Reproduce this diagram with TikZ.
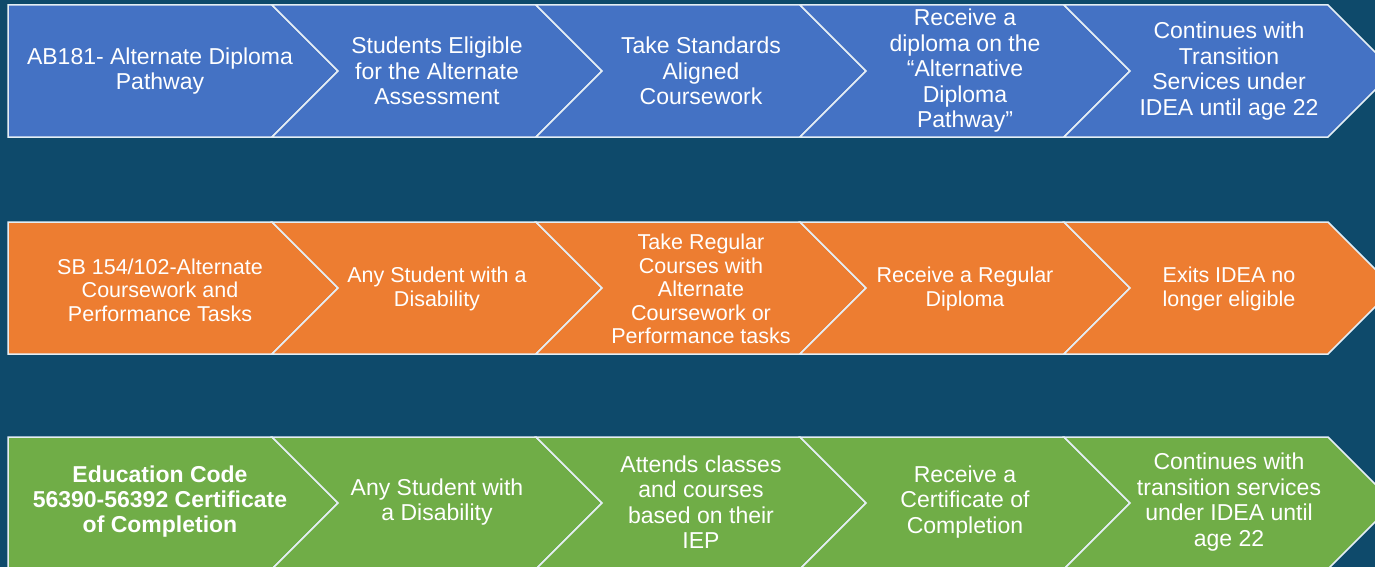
\documentclass[tikz,border=0pt]{standalone}
\usepackage{fontspec}
\setmainfont{Liberation Sans}
\usetikzlibrary{positioning}
\definecolor{bg}{HTML}{0E4A6B}
\definecolor{cblue}{HTML}{4472C4}
\definecolor{corange}{HTML}{ED7D31}
\definecolor{cgreen}{HTML}{70AD47}
\definecolor{rim}{HTML}{E4EEF4}

\begin{document}
\begin{tikzpicture}[x=1pt,y=-1pt, txt/.style = {text=white, align=center, inner sep=0pt, font=\fontsize{23}{25.5}\selectfont}]
    \useasboundingbox (0,0) rectangle (1375,567);
    \clip (0,0) rectangle (1375,567);
    \fill[bg] (0,0) rectangle (1375,567);
    \tikzstyle{edge}=[draw=rim, line width=1.5pt, line join=miter]
    \foreach \t/\col in {5/cblue,222/corange,437/cgreen}
        {\filldraw[edge,fill=\col] (8,\t) -- ++(264,0) -- ++(66,66) -- ++(-66,66) -- ++(-264,0) -- cycle;
        \foreach \x in {272,536,800,1064}
            \filldraw[edge,fill=\col] (\x,\t) -- ++(264,0) -- ++(66,66) -- ++(-66,66) -- ++(-264,0) -- ++(66,-66) -- cycle;}

    \node[txt] (a1) at (160,71) {AB181- Alternate Diploma\\Pathway};
    \node[txt] (a2) at (437,71) {Students Eligible\\for the Alternate\\Assessment};
    \node[txt] (a3) at (701,71) {Take Standards\\Aligned\\Coursework};
    \node[txt] (a4) at (965,71) {Receive a\\diploma on the\\“Alternative\\Diploma\\Pathway”};
    \node[txt] (a5) at (1229,71) {Continues with\\Transition\\Services under\\IDEA until age 22};

    \tikzstyle{txt2}=[txt, font=\fontsize{21.5}{23.5}\selectfont]
    \node[txt2] (b1) at (160,290) {SB 154/102-Alternate\\Coursework and\\Performance Tasks};
    \node[txt2] (b2) at (437,289) {Any Student with a\\Disability};
    \node[txt2] (b3) at (701,289) {Take Regular\\Courses with\\Alternate\\Coursework or\\Performance tasks};
    \node[txt2] (b4) at (965,289) {Receive a Regular\\Diploma};
    \node[txt2] (b5) at (1229,289) {Exits IDEA no\\longer eligible};

    \node[txt, font=\bfseries\fontsize{23}{25}\selectfont] (c1) at (160,502) {Education Code\\56390-56392 Certificate\\of Completion};
    \node[txt] (c2) at (437,502) {Any Student with\\a Disability};
    \node[txt] (c3) at (701,502) {Attends classes\\and courses\\based on their\\IEP};
    \node[txt] (c4) at (965,502) {Receive a\\Certificate of\\Completion};
    \node[txt] (c5) at (1229,502) {Continues with\\transition services\\under IDEA until\\age 22};
\end{tikzpicture}
\end{document}
